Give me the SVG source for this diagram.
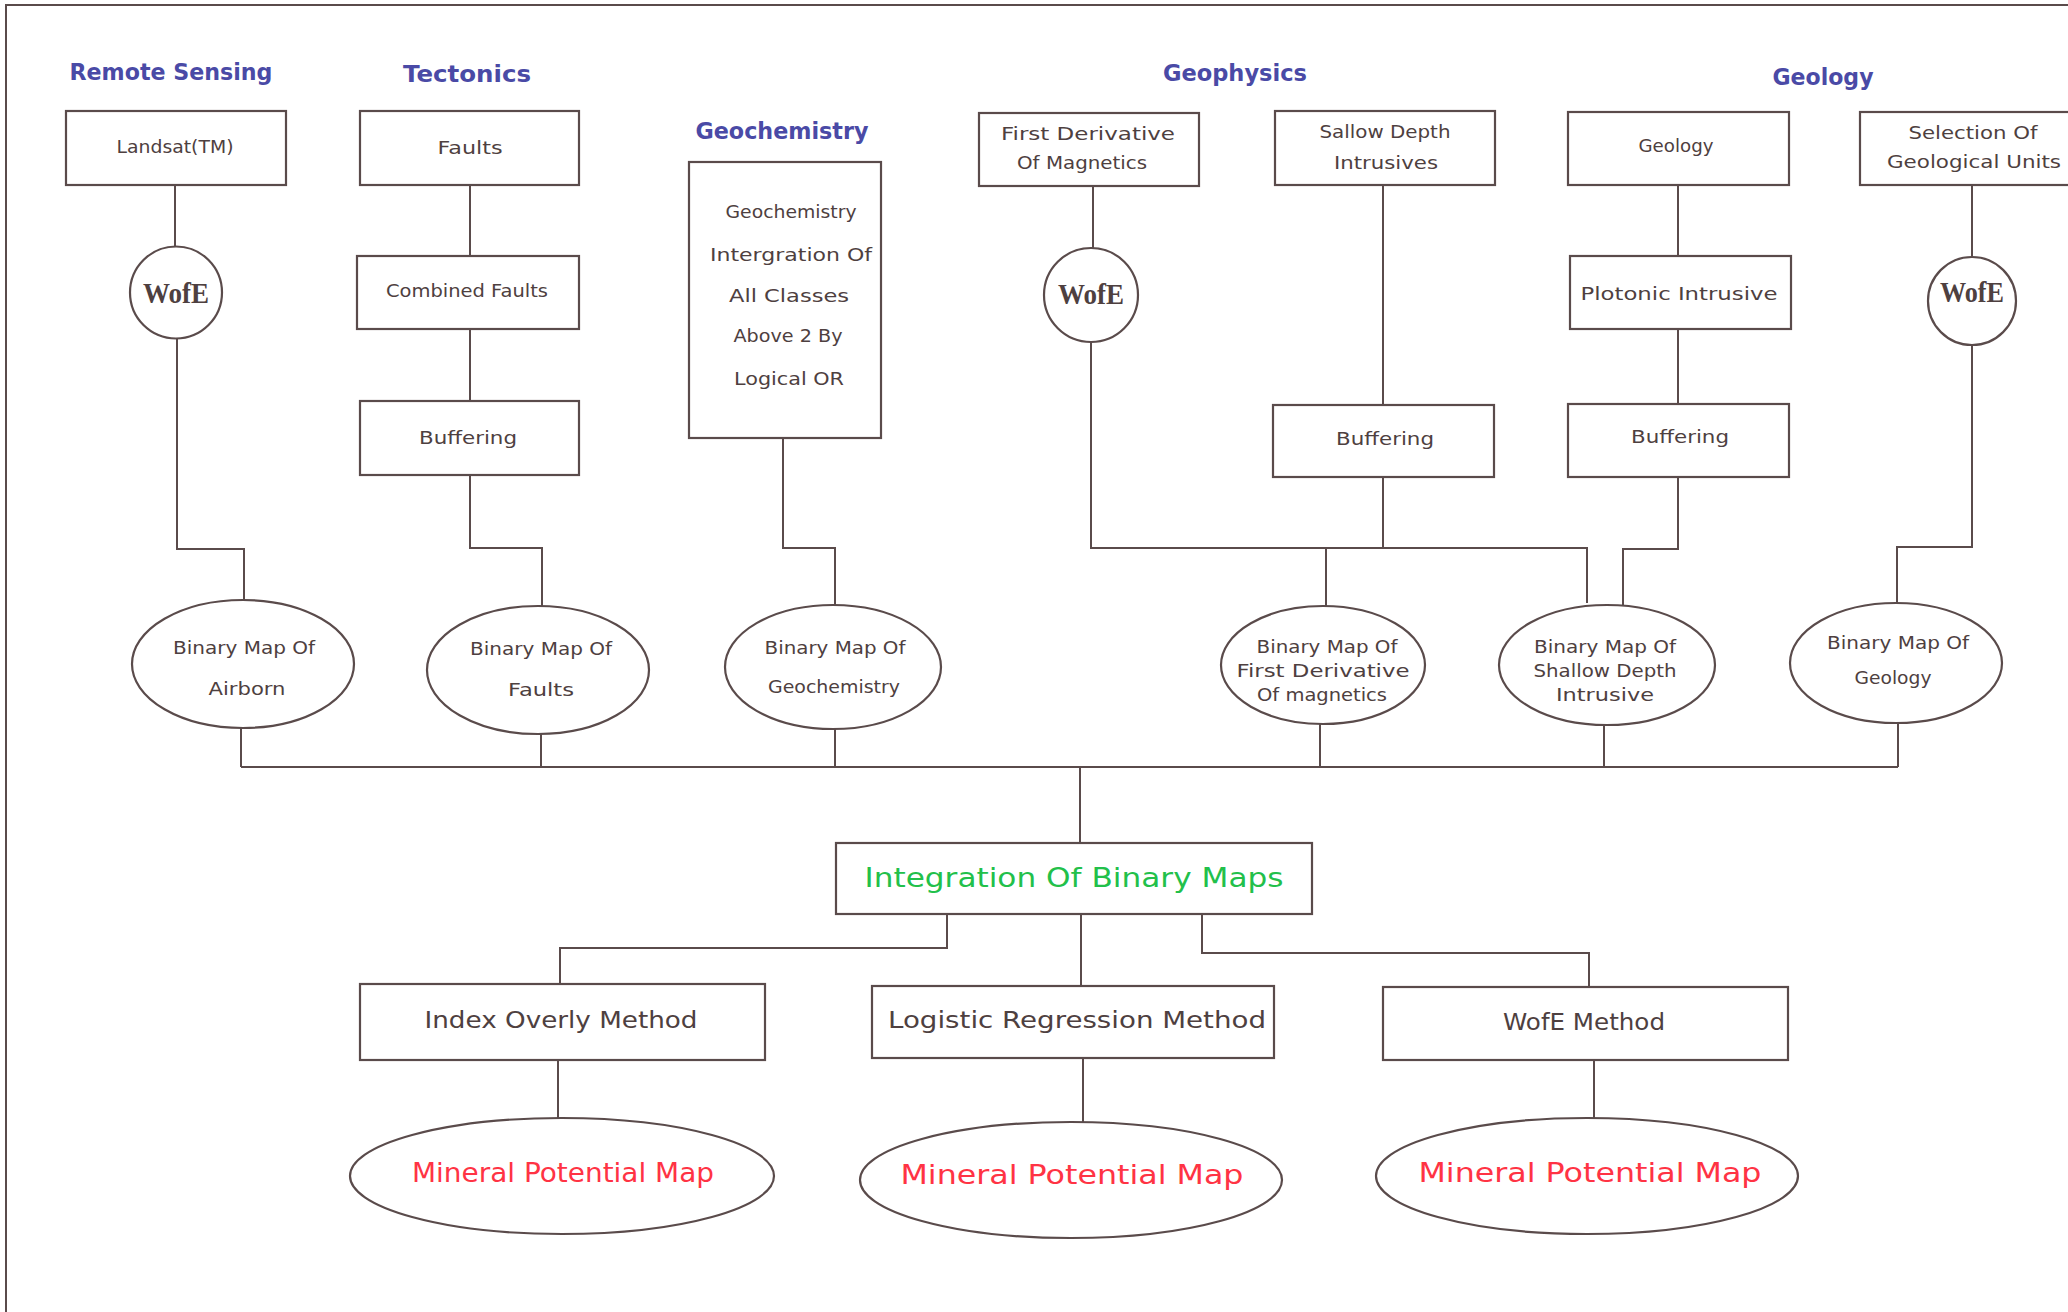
<svg xmlns="http://www.w3.org/2000/svg" width="2068" height="1312" viewBox="0 0 2068 1312">
<style>
.b{fill:#fff;stroke:#5a4b4b;stroke-width:2.2}
.c{fill:none;stroke:#5a4b4b;stroke-width:2}
text{font-family:"DejaVu Sans","Liberation Sans",sans-serif;text-anchor:middle;dominant-baseline:central;fill:#4e4040}
.s{font-size:17px}
.h{font-size:23px;font-weight:bold;fill:#4a4aa6}
.w{font-family:"Liberation Serif","DejaVu Serif",serif;font-size:29px;font-weight:bold;fill:#4e4040}
.m{font-size:23px}
.g{font-size:26px;fill:#22c04a}
.r{font-size:26px;fill:#ff3344}
</style>
<rect x="0" y="0" width="2068" height="1312" fill="#fff"/>
<path class="c" d="M6 1312 V5 H2068"/>

<g id="headers">
<text class="h" x="171" y="72" textLength="203" lengthAdjust="spacingAndGlyphs">Remote Sensing</text>
<text class="h" x="467" y="74" textLength="128" lengthAdjust="spacingAndGlyphs">Tectonics</text>
<text class="h" x="782" y="131" textLength="173" lengthAdjust="spacingAndGlyphs">Geochemistry</text>
<text class="h" x="1235" y="73" textLength="144" lengthAdjust="spacingAndGlyphs">Geophysics</text>
<text class="h" x="1823" y="77" textLength="101" lengthAdjust="spacingAndGlyphs">Geology</text>
</g>

<g id="connectors">
<path class="c" d="M175 185 V247"/>
<path class="c" d="M177 338 V549 H244 V600"/>
<path class="c" d="M470 185 V256"/>
<path class="c" d="M470 329 V401"/>
<path class="c" d="M470 475 V548 H542 V606"/>
<path class="c" d="M783 438 V548 H835 V605"/>
<path class="c" d="M1093 186 V248"/>
<path class="c" d="M1091 342 V548 H1587 V603"/>
<path class="c" d="M1326 548 V606"/>
<path class="c" d="M1383 185 V405"/>
<path class="c" d="M1383 477 V548"/>
<path class="c" d="M1678 185 V256"/>
<path class="c" d="M1678 329 V404"/>
<path class="c" d="M1678 477 V549 H1623 V605"/>
<path class="c" d="M1972 185 V258"/>
<path class="c" d="M1972 344 V547 H1897 V603"/>
<path class="c" d="M241 728 V767 M541 734 V767 M835 729 V767 M1320 724 V767 M1604 724 V767 M1898 724 V767 M241 767 H1898"/>
<path class="c" d="M1080 767 V843"/>
<path class="c" d="M947 914 V948 H560 V984"/>
<path class="c" d="M1081 914 V986"/>
<path class="c" d="M1202 914 V953 H1589 V987"/>
<path class="c" d="M558 1060 V1118"/>
<path class="c" d="M1083 1058 V1122"/>
<path class="c" d="M1594 1060 V1118"/>
</g>

<g id="landsat"><rect class="b" x="66" y="111" width="220" height="74"/><text class="s" x="175" y="147" textLength="117" lengthAdjust="spacingAndGlyphs">Landsat(TM)</text></g>
<g id="wofe-rs"><circle class="b" cx="176" cy="292.5" r="46"/><text class="w" x="176" y="293" textLength="66" lengthAdjust="spacingAndGlyphs">WofE</text></g>

<g id="faults"><rect class="b" x="360" y="111" width="219" height="74"/><text class="s" x="470" y="148" textLength="65" lengthAdjust="spacingAndGlyphs">Faults</text></g>
<g id="combined-faults"><rect class="b" x="357" y="256" width="222" height="73"/><text class="s" x="467" y="291" textLength="162" lengthAdjust="spacingAndGlyphs">Combined Faults</text></g>
<g id="buffering-t"><rect class="b" x="360" y="401" width="219" height="74"/><text class="s" x="468" y="438" textLength="98" lengthAdjust="spacingAndGlyphs">Buffering</text></g>

<g id="geochem-box"><rect class="b" x="689" y="162" width="192" height="276"/>
<text class="s" x="791" y="212" textLength="131" lengthAdjust="spacingAndGlyphs">Geochemistry</text>
<text class="s" x="791" y="255" textLength="162" lengthAdjust="spacingAndGlyphs">Intergration Of</text>
<text class="s" x="789" y="296" textLength="120" lengthAdjust="spacingAndGlyphs">All Classes</text>
<text class="s" x="788" y="336" textLength="109" lengthAdjust="spacingAndGlyphs">Above 2 By</text>
<text class="s" x="789" y="379" textLength="110" lengthAdjust="spacingAndGlyphs">Logical OR</text></g>

<g id="first-derivative"><rect class="b" x="979" y="113" width="220" height="73"/>
<text class="s" x="1088" y="134" textLength="174" lengthAdjust="spacingAndGlyphs">First Derivative</text>
<text class="s" x="1082" y="163" textLength="130" lengthAdjust="spacingAndGlyphs">Of Magnetics</text></g>
<g id="wofe-gp"><circle class="b" cx="1091" cy="295" r="47"/><text class="w" x="1091" y="294" textLength="66" lengthAdjust="spacingAndGlyphs">WofE</text></g>

<g id="sallow"><rect class="b" x="1275" y="111" width="220" height="74"/>
<text class="s" x="1385" y="132" textLength="131" lengthAdjust="spacingAndGlyphs">Sallow Depth</text>
<text class="s" x="1386" y="163" textLength="104" lengthAdjust="spacingAndGlyphs">Intrusives</text></g>
<g id="buffering-gp"><rect class="b" x="1273" y="405" width="221" height="72"/><text class="s" x="1385" y="439" textLength="98" lengthAdjust="spacingAndGlyphs">Buffering</text></g>

<g id="geology"><rect class="b" x="1568" y="112" width="221" height="73"/><text class="s" x="1676" y="146" textLength="75" lengthAdjust="spacingAndGlyphs">Geology</text></g>
<g id="plotonic"><rect class="b" x="1570" y="256" width="221" height="73"/><text class="s" x="1679" y="294" textLength="197" lengthAdjust="spacingAndGlyphs">Plotonic Intrusive</text></g>
<g id="buffering-geo"><rect class="b" x="1568" y="404" width="221" height="73"/><text class="s" x="1680" y="437" textLength="98" lengthAdjust="spacingAndGlyphs">Buffering</text></g>

<g id="selection"><rect class="b" x="1860" y="112" width="230" height="73"/>
<text class="s" x="1973" y="133" textLength="129" lengthAdjust="spacingAndGlyphs">Selection Of</text>
<text class="s" x="1974" y="162" textLength="174" lengthAdjust="spacingAndGlyphs">Geological Units</text></g>
<g id="wofe-geo"><circle class="b" cx="1972" cy="301" r="44"/><text class="w" x="1972" y="292" textLength="64" lengthAdjust="spacingAndGlyphs">WofE</text></g>

<g id="bm-airborn"><ellipse class="b" cx="243" cy="664" rx="111" ry="64"/>
<text class="s" x="244" y="648" textLength="142" lengthAdjust="spacingAndGlyphs">Binary Map Of</text>
<text class="s" x="247" y="689" textLength="77" lengthAdjust="spacingAndGlyphs">Airborn</text></g>
<g id="bm-faults"><ellipse class="b" cx="538" cy="670" rx="111" ry="64"/>
<text class="s" x="541" y="649" textLength="142" lengthAdjust="spacingAndGlyphs">Binary Map Of</text>
<text class="s" x="541" y="690" textLength="66" lengthAdjust="spacingAndGlyphs">Faults</text></g>
<g id="bm-geochem"><ellipse class="b" cx="833" cy="667" rx="108" ry="62"/>
<text class="s" x="835" y="648" textLength="141" lengthAdjust="spacingAndGlyphs">Binary Map Of</text>
<text class="s" x="834" y="687" textLength="132" lengthAdjust="spacingAndGlyphs">Geochemistry</text></g>
<g id="bm-fd"><ellipse class="b" cx="1323" cy="665" rx="102" ry="59"/>
<text class="s" x="1327" y="647" textLength="141" lengthAdjust="spacingAndGlyphs">Binary Map Of</text>
<text class="s" x="1323" y="671" textLength="173" lengthAdjust="spacingAndGlyphs">First Derivative</text>
<text class="s" x="1322" y="695" textLength="130" lengthAdjust="spacingAndGlyphs">Of magnetics</text></g>
<g id="bm-shallow"><ellipse class="b" cx="1607" cy="665" rx="108" ry="60"/>
<text class="s" x="1605" y="647" textLength="142" lengthAdjust="spacingAndGlyphs">Binary Map Of</text>
<text class="s" x="1605" y="671" textLength="143" lengthAdjust="spacingAndGlyphs">Shallow Depth</text>
<text class="s" x="1605" y="695" textLength="98" lengthAdjust="spacingAndGlyphs">Intrusive</text></g>
<g id="bm-geology"><ellipse class="b" cx="1896" cy="663" rx="106" ry="60"/>
<text class="s" x="1898" y="643" textLength="142" lengthAdjust="spacingAndGlyphs">Binary Map Of</text>
<text class="s" x="1893" y="678" textLength="77" lengthAdjust="spacingAndGlyphs">Geology</text></g>

<g id="integration"><rect class="b" x="836" y="843" width="476" height="71"/><text class="g" x="1074" y="878" textLength="419" lengthAdjust="spacingAndGlyphs">Integration Of Binary Maps</text></g>

<g id="index"><rect class="b" x="360" y="984" width="405" height="76"/><text class="m" x="561" y="1020" textLength="273" lengthAdjust="spacingAndGlyphs">Index Overly Method</text></g>
<g id="logistic"><rect class="b" x="872" y="986" width="402" height="72"/><text class="m" x="1077" y="1020" textLength="378" lengthAdjust="spacingAndGlyphs">Logistic Regression Method</text></g>
<g id="wofe-method"><rect class="b" x="1383" y="987" width="405" height="73"/><text class="m" x="1584" y="1022" textLength="162" lengthAdjust="spacingAndGlyphs">WofE Method</text></g>

<g id="mpm-1"><ellipse class="b" cx="562" cy="1176" rx="212" ry="58"/><text class="r" x="563" y="1173" textLength="302" lengthAdjust="spacingAndGlyphs">Mineral Potential Map</text></g>
<g id="mpm-2"><ellipse class="b" cx="1071" cy="1180" rx="211" ry="58"/><text class="r" x="1072" y="1175" textLength="343" lengthAdjust="spacingAndGlyphs">Mineral Potential Map</text></g>
<g id="mpm-3"><ellipse class="b" cx="1587" cy="1176" rx="211" ry="58"/><text class="r" x="1590" y="1173" textLength="343" lengthAdjust="spacingAndGlyphs">Mineral Potential Map</text></g>
</svg>
